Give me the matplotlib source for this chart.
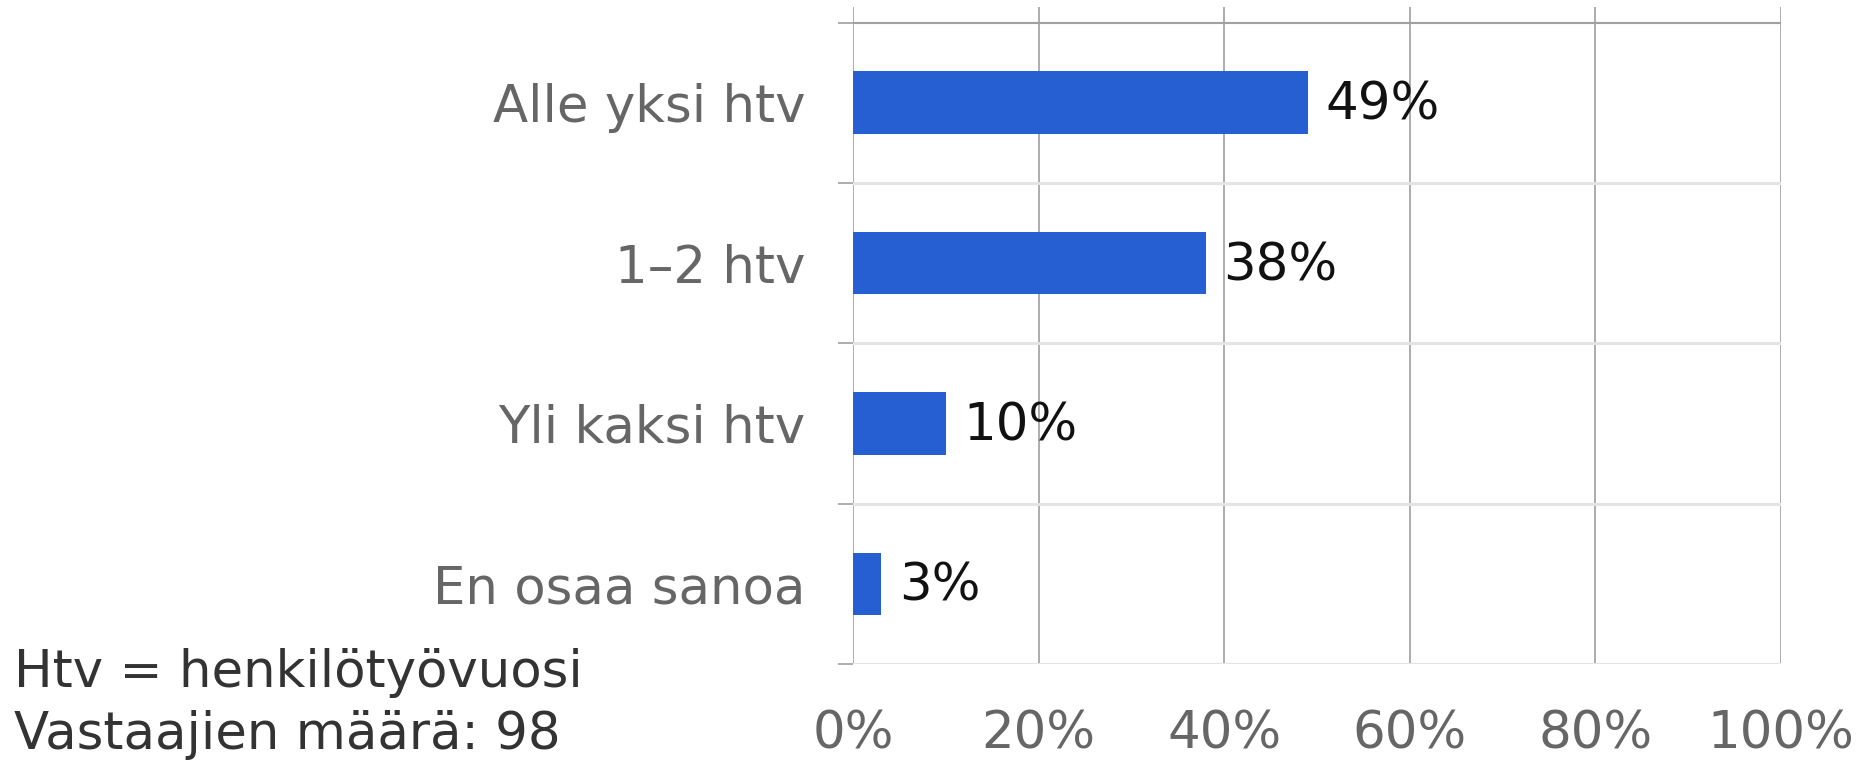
import matplotlib
matplotlib.use("Agg")
import matplotlib.pyplot as plt
import numpy as np

plt.rcParams["font.family"] = ["DejaVu Sans"]

categories = ["Alle yksi htv", "1–2 htv", "Yli kaksi htv", "En osaa sanoa"]
shares = [49, 38, 10, 3]
x_ticks = [0, 20, 40, 60, 80, 100]
notes = ["Htv = henkilötyövuosi", "Vastaajien määrä: 98"]

BAR_COLOR = "#265fd2"
GRID_COLOR = "#a0a0a0"
SEP_COLOR = "#e4e4e4"
LABEL_COLOR = "#666666"
FS = 37


def main() -> None:
    fig = plt.figure(figsize=(18.57, 7.6), dpi=100)
    ax = fig.add_axes([0.4593, 0.1263, 0.4998, 0.8645])

    y = np.arange(len(categories))
    ax.barh(y, shares, height=0.39, color=BAR_COLOR, zorder=3)

    top_extra = 0.097
    ax.set_xlim(0, 100)
    ax.set_ylim(len(categories) - 0.5, -0.5 - top_extra)

    for s in ax.spines.values():
        s.set_visible(False)

    for xv in x_ticks:
        ax.axvline(xv, color=GRID_COLOR, lw=1.2, zorder=1)
    ax.axhline(-0.5, color=GRID_COLOR, lw=1.5, zorder=2)
    for yb in np.arange(0.5, len(categories), 1.0):
        ax.axhline(yb, color=SEP_COLOR, lw=2.2, zorder=2)

    ax.set_yticks(y, labels=categories)
    ax.set_yticks(np.arange(-0.5, len(categories), 1.0), minor=True)
    ax.tick_params(axis="y", which="major", length=0, pad=34, labelsize=FS, labelcolor=LABEL_COLOR)
    ax.tick_params(axis="y", which="minor", length=11, width=1.2, color=GRID_COLOR)

    ax.set_xticks(x_ticks, labels=[f"{v}%" for v in x_ticks])
    ax.tick_params(axis="x", length=0, pad=33, labelsize=FS, labelcolor=LABEL_COLOR)

    for yi, v in zip(y, shares):
        ax.annotate(f"{v}%", (v, yi), xytext=(18, -3), textcoords="offset pixels",
                    va="center", ha="left", fontsize=FS, color="#111111")

    fig.text(14 / 1857, 1 - 673 / 760, notes[0], fontsize=FS, color="#333333", va="center", ha="left")
    fig.text(14 / 1857, 1 - 735 / 760, notes[1], fontsize=FS, color="#333333", va="center", ha="left")

    fig.savefig("out.png", dpi=100)
    plt.close(fig)


if __name__ == "__main__":
    main()
